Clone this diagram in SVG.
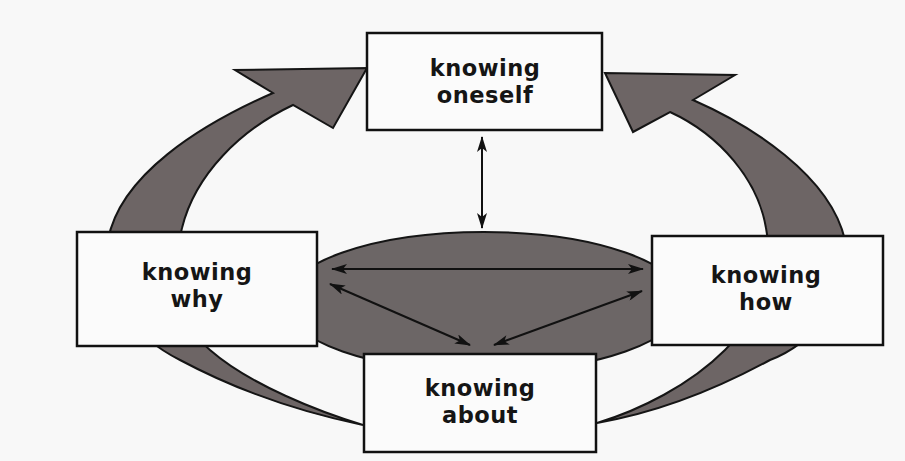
<svg xmlns="http://www.w3.org/2000/svg" width="905" height="461" viewBox="0 0 905 461">
  <defs>
    <style>
      .box { fill: #fbfbfb; stroke: #111; stroke-width: 2.5; }
      .lbl { font-family: "DejaVu Sans", "Liberation Sans", Arial, sans-serif; font-weight: bold; font-size: 22.5px; letter-spacing: 0.5px; fill: #151515; text-anchor: middle; }
      .big { fill: #6d6565; stroke: #151515; stroke-width: 2; stroke-linejoin: miter; }
      .hub { fill: #6c6666; stroke: #151515; stroke-width: 2; }
      .thin { fill: none; stroke: #111; stroke-width: 2; marker-start: url(#head); marker-end: url(#head); }
    </style>
    <marker id="head" viewBox="0 0 16 10" refX="15" refY="5" markerWidth="16" markerHeight="10" markerUnits="userSpaceOnUse" orient="auto-start-reverse">
      <path d="M0,0 L16,5 L0,10 L4,5 Z" fill="#111"/>
    </marker>
  </defs>

  <rect width="905" height="461" fill="#f8f8f8"/>

  <g id="hub">
    <ellipse class="hub" cx="484" cy="302" rx="200" ry="70"/>
  </g>

  <g id="connectors">
    <!-- left big curved arrow: knowing about -> knowing why -> knowing oneself -->
    <path class="big" d="M 363 425
      C 300 412, 240 392, 180 360
      C 140 340, 100 300, 108 240
      C 120 175, 200 125, 273 93
      L 235 70 L 367 68 L 333 128 L 293 105
      C 240 130, 195 175, 182 228
      C 170 270, 180 325, 210 350
      C 250 385, 320 412, 363 425 Z"/>
    <!-- right big curved arrow: knowing about -> knowing how -> knowing oneself -->
    <path class="big" d="M 597 423
      C 655 413, 715 390, 770 360
      C 810 345, 855 300, 845 240
      C 830 175, 750 125, 693 100
      L 735 75 L 605 73 L 633 132 L 670 112
      C 720 135, 758 180, 766 228
      C 775 270, 755 320, 725 350
      C 690 385, 640 410, 597 423 Z"/>
    <!-- small double arrows -->
    <line class="thin" x1="482" y1="137" x2="482" y2="228"/>
    <line class="thin" x1="332" y1="269" x2="643" y2="269"/>
    <line class="thin" x1="330" y1="284" x2="470" y2="345"/>
    <line class="thin" x1="642" y1="291" x2="494" y2="345"/>
  </g>

  <g id="knowing-oneself">
    <rect class="box" x="367" y="33" width="235" height="97"/>
    <text class="lbl" x="485" y="76">knowing</text>
    <text class="lbl" x="485" y="103">oneself</text>
  </g>

  <g id="knowing-why">
    <rect class="box" x="77" y="232" width="240" height="114"/>
    <text class="lbl" x="197" y="280">knowing</text>
    <text class="lbl" x="197" y="307">why</text>
  </g>

  <g id="knowing-how">
    <rect class="box" x="652" y="236" width="231" height="109"/>
    <text class="lbl" x="766" y="283">knowing</text>
    <text class="lbl" x="766" y="310">how</text>
  </g>

  <g id="knowing-about">
    <rect class="box" x="364" y="354" width="232" height="98"/>
    <text class="lbl" x="480" y="396">knowing</text>
    <text class="lbl" x="480" y="423">about</text>
  </g>
</svg>
